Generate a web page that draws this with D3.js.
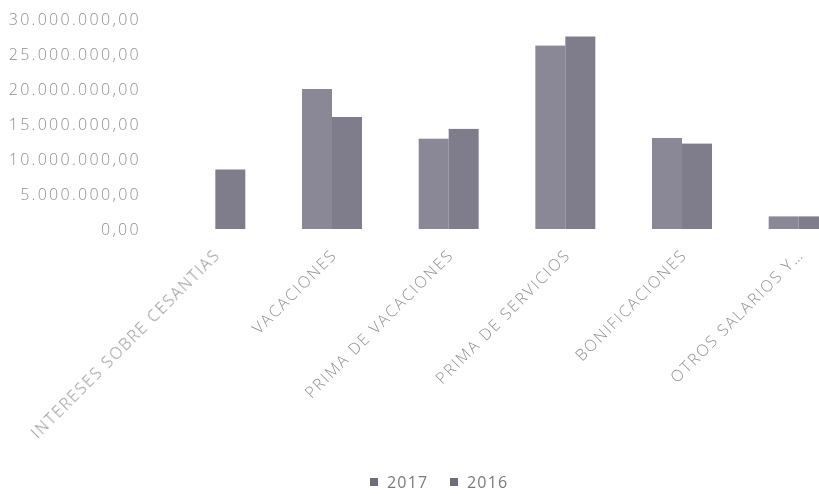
<!DOCTYPE html>
<html>
<head>
<meta charset="utf-8">
<script src="https://cdn.jsdelivr.net/npm/d3@7"></script>
<style>
  html, body { margin: 0; padding: 0; background: #fff; }
  svg { display: block; }
  text { font-family: "Open Sans", sans-serif; fill: #8f8f8f; }
</style>
</head>
<body>
<svg id="chart" width="819" height="494"></svg>
<script>
// Prestaciones sociales por concepto, 2017 frente a 2016
const categories = [
  "INTERESES SOBRE CESANTIAS",
  "VACACIONES",
  "PRIMA DE VACACIONES",
  "PRIMA DE SERVICIOS",
  "BONIFICACIONES",
  "OTROS SALARIOS Y…"
];
const seriesNames = ["2017", "2016"];
const values2017 = [0, 20000000, 12900000, 26200000, 13000000, 1800000];
const values2016 = [8500000, 16000000, 14300000, 27500000, 12200000, 1800000];
const yTicks = [0, 5000000, 10000000, 15000000, 20000000, 25000000, 30000000];

const colors = { "2017": "#8a8896", "2016": "#7f7d8c" };

const rows = categories.map((c, i) => ({
  category: c,
  values: [
    { key: "2017", value: values2017[i] },
    { key: "2016", value: values2016[i] }
  ]
}));

const svg = d3.select("#chart");

const defs = svg.append("defs");
defs.append("filter").attr("id", "soft")
  .append("feGaussianBlur").attr("stdDeviation", 0.45);

const root = svg.append("g").attr("filter", "url(#soft)");

const y = d3.scaleLinear().domain([0, 30000000]).range([229, 19]);

const x0 = d3.scaleBand()
  .domain(categories)
  .range([157, 857])
  .paddingInner(0.486)
  .paddingOuter(0.243);

const x1 = d3.scaleBand()
  .domain(seriesNames)
  .range([0, x0.bandwidth()]);

const locale = d3.formatLocale({ decimal: ",", thousands: ".", grouping: [3], currency: ["", ""] });
const fmt = locale.format(",.2f");

// value axis (labels only)
const yAxis = root.append("g")
  .attr("transform", "translate(149,0)")
  .call(d3.axisLeft(y).tickValues(yTicks).tickSize(0).tickPadding(8).tickFormat(fmt));
yAxis.select(".domain").remove();
yAxis.selectAll("text")
  .style("font-family", "'Open Sans', sans-serif")
  .style("font-size", "16px")
  .style("font-weight", "300")
  .style("letter-spacing", "2.3px")
  .attr("fill", "#8f8f8f");

// bars
const groups = root.append("g").selectAll("g")
  .data(rows)
  .join("g")
  .attr("transform", d => `translate(${x0(d.category)},0)`);

groups.selectAll("rect")
  .data(d => d.values.filter(v => v.value > 0))
  .join("rect")
  .attr("x", d => x1(d.key))
  .attr("width", x1.bandwidth())
  .attr("y", d => y(d.value))
  .attr("height", d => y(0) - y(d.value))
  .attr("fill", d => colors[d.key]);

// rotated category labels
root.append("g").selectAll("text")
  .data(categories)
  .join("text")
  .attr("transform", d => `translate(${x0(d) + x0.bandwidth() / 2 + 6},256) rotate(-45)`)
  .attr("text-anchor", "end")
  .style("font-size", "16px")
  .style("font-weight", "300")
  .style("letter-spacing", "1.8px")
  .text(d => d);

// legend
const legend = root.append("g");
const legendX = [370, 450];
seriesNames.forEach((s, i) => {
  legend.append("rect")
    .attr("x", legendX[i]).attr("y", 478)
    .attr("width", 8).attr("height", 8)
    .attr("fill", "#6f6d7a");
  legend.append("text")
    .attr("x", legendX[i] + 17).attr("y", 488)
    .style("font-size", "16px")
    .style("letter-spacing", "1.2px")
    .style("fill", "#7a7a7a")
    .text(s);
});
</script>
</body>
</html>
